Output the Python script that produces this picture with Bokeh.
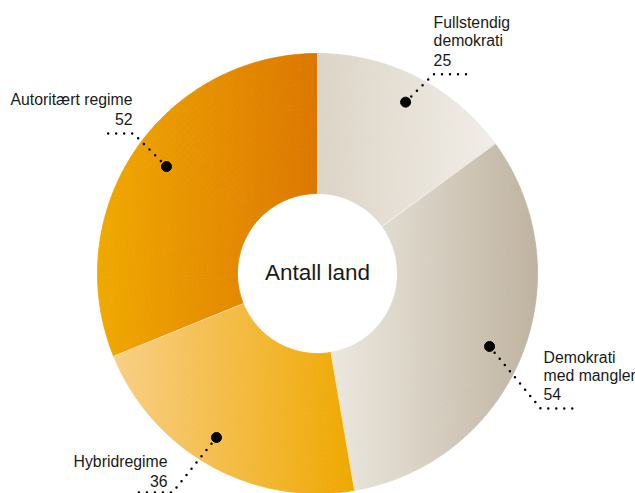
import math
import numpy as np
from bokeh.plotting import figure
from bokeh.models import Range1d
from bokeh.embed import file_html
from bokeh.resources import INLINE
from bokeh.core.properties import value

# ---------------- data ----------------
categories = ["Fullstendig demokrati", "Demokrati med mangler", "Hybridregime", "Autoritært regime"]
label_lines = [["Fullstendig", "demokrati"], ["Demokrati", "med mangler"], ["Hybridregime"], ["Autoritært regime"]]
counts = [25, 54, 36, 52]
center_title = "Antall land"

# ---------------- styles ----------------
grad_left = ["#dcd4c6", "#ece8df", "#f8cf86", "#f0a900"]
grad_right = ["#f1ede7", "#bfb3a0", "#efa800", "#dc7600"]
FONT = "Liberation Sans"
TEXT_COLOR = "#1a1a1a"

# layout (reference pixel frame, y downwards)
PAGE_W, PAGE_H = 635, 493
CX, CY = 317, 273
R_IN, R_OUT = 80, 220
DOT_R = 190
dot_nudge = [(2, -2), (-4, 1.5), (-8.6, -2), (6.6, -0.8)]
elbow_rel = [(28, -28), (51, 62), (-44, 55), (-33, -33)]
horiz_len = [34, 37, -34, -33]
text_dx = [0, 3, -5, -1]
text_gap = [-14.5, -14, -12, -15]
LINE_H = 18.7

def Y(ypx):
    return PAGE_H - ypx

def hex2rgb(h):
    h = h.lstrip("#")
    return tuple(int(h[i:i + 2], 16) for i in (0, 2, 4))

def mix(c0, c1, t):
    return "#%02x%02x%02x" % tuple(int(round(a + (b - a) * t)) for a, b in zip(c0, c1))

p = figure(width=PAGE_W, height=PAGE_H, x_range=Range1d(0, PAGE_W), y_range=Range1d(0, PAGE_H),
           toolbar_location=None, output_backend="svg", min_border=0,
           x_axis_location=None, y_axis_location=None)
p.grid.visible = False
p.outline_line_color = None
p.background_fill_color = "white"
p.border_fill_color = "white"

total = sum(counts)
deg_per = 360.0 / total
bounds = []
cum = 0
for v in counts:
    a_hi = 90 - cum * deg_per
    cum += v
    a_lo = 90 - cum * deg_per
    bounds.append((a_lo, a_hi))

# gradient-filled donut built from small annular wedge pieces
cyd = Y(CY)
N_R = 28
ps, pe, pin, pout, pcol = [], [], [], [], []
for i, (a_lo, a_hi) in enumerate(bounds):
    th = np.radians(np.linspace(a_lo, a_hi, 600))
    xs = np.concatenate([CX + R_IN * np.cos(th), CX + R_OUT * np.cos(th)])
    xmin, xmax = xs.min(), xs.max()
    c0, c1 = hex2rgb(grad_left[i]), hex2rgb(grad_right[i])
    n_a = int(math.ceil((a_hi - a_lo) / 1.5))
    ea = np.linspace(a_lo, a_hi, n_a + 1)
    er = np.linspace(R_IN, R_OUT, N_R + 1)
    for j in range(n_a):
        am = math.radians((ea[j] + ea[j + 1]) / 2)
        for k in range(N_R):
            rm = (er[k] + er[k + 1]) / 2
            xm = CX + rm * math.cos(am)
            t = min(max((xm - xmin) / (xmax - xmin), 0), 1)
            ps.append(math.radians(ea[j]))
            pe.append(math.radians(ea[j + 1]))
            pin.append(er[k])
            pout.append(er[k + 1])
            pcol.append(mix(c0, c1, t))

p.annular_wedge(x=CX, y=cyd, inner_radius=pin, outer_radius=pout,
                start_angle=ps, end_angle=pe, direction="anticlock",
                fill_color=pcol, line_color=pcol, line_width=0.8)

# thin separators between slices
sep_angles = [math.radians(b[1]) for b in bounds]
p.segment(x0=[CX + R_IN * math.cos(a) for a in sep_angles],
          y0=[cyd + R_IN * math.sin(a) for a in sep_angles],
          x1=[CX + R_OUT * math.cos(a) for a in sep_angles],
          y1=[cyd + R_OUT * math.sin(a) for a in sep_angles],
          line_color="white", line_width=1, line_alpha=0.7)

# center text
p.text(x=[CX], y=[Y(272)], text=[center_title], text_align="center",
       text_baseline="alphabetic", text_font=value(FONT), text_font_size="22.5px",
       text_color=TEXT_COLOR)

# labels
dot_x, dot_y, lxs, lys = [], [], [], []
left_t = dict(x=[], y=[], text=[])
right_t = dict(x=[], y=[], text=[])
for i, (a_lo, a_hi) in enumerate(bounds):
    am = math.radians((a_lo + a_hi) / 2)
    dx = CX + DOT_R * math.cos(am) + dot_nudge[i][0]
    dy = CY - DOT_R * math.sin(am) + dot_nudge[i][1]
    ex, ey = dx + elbow_rel[i][0], dy + elbow_rel[i][1]
    hx = ex + horiz_len[i]
    dot_x.append(dx)
    dot_y.append(Y(dy))
    lxs.append([dx, ex, hx])
    lys.append([Y(dy), Y(ey), Y(ey)])
    lines = label_lines[i] + [str(counts[i])]
    n = len(lines)
    tgt = left_t if horiz_len[i] > 0 else right_t
    for k, s in enumerate(lines):
        tgt["x"].append(ex + text_dx[i])
        tgt["y"].append(Y(ey + text_gap[i] - (n - 1 - k) * LINE_H))
        tgt["text"].append(s)

p.multi_line(xs=lxs, ys=lys, line_color="black", line_width=2.5,
             line_dash="0 8", line_cap="round")
p.scatter(x=dot_x, y=dot_y, size=10, fill_color="black", line_color="black")

p.text(x=left_t["x"], y=left_t["y"], text=left_t["text"], text_align="left",
       text_baseline="alphabetic", text_font=value(FONT), text_font_size="15.8px",
       text_color=TEXT_COLOR)
p.text(x=right_t["x"], y=right_t["y"], text=right_t["text"], text_align="right",
       text_baseline="alphabetic", text_font=value(FONT), text_font_size="15.8px",
       text_color=TEXT_COLOR)

open("out.html", "w").write(file_html(p, INLINE))
